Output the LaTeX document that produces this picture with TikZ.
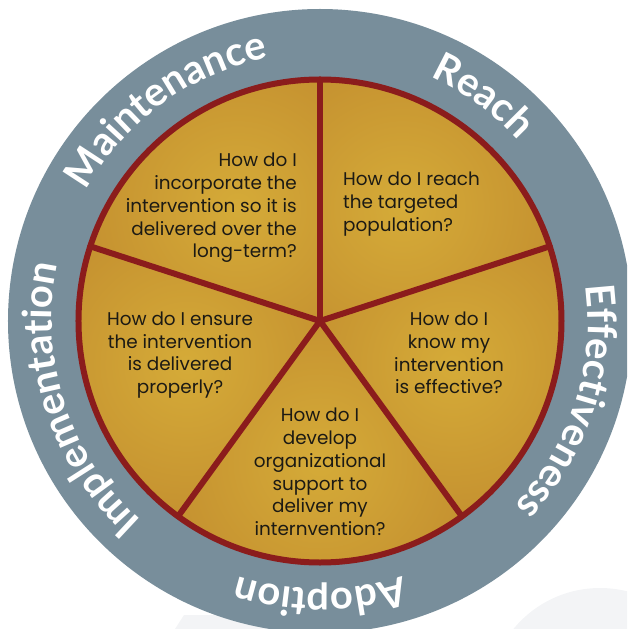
\documentclass[tikz,border=0pt]{standalone}
\usepackage{fontspec}
\setmainfont{Poppins}
\newfontfamily\ringfont{Lato}
\usetikzlibrary{decorations.text}
\definecolor{ringgray}{HTML}{788E9B}
\definecolor{spokered}{HTML}{8B1C1C}
\definecolor{goldlight}{HTML}{D5AB38}
\definecolor{golddark}{HTML}{B97E2A}
\definecolor{pale}{HTML}{F3F4F6}
\definecolor{qink}{HTML}{1C1A14}
\tikzset{
  qtext/.style={font=\fontsize{18.4}{22.7}\selectfont, text=qink, inner sep=0pt},
  redline/.style={draw=spokered, line width=6pt},
  ringlabel/.style={decorate, decoration={text along path, text align=center, text color=white, text={#1}}}
}
\begin{document}
\begin{tikzpicture}[x=1pt,y=1pt]
\useasboundingbox (-320,-308) rectangle (307,321);
\clip (-320,-308) rectangle (307,321);
% faint background shapes
\fill[pale] (280,-379) circle (112);
\fill[pale] (-145,-308) -- (-136,-294) -- (0,-294) -- (0,-308) -- cycle;
% outer ring
\fill[ringgray] (0,0) circle (312);
% gold wedges
\foreach \a in {18,90,162,234,306} {
  \begin{scope}
    \clip (0,0) -- (\a:243) arc[start angle=\a, end angle=\a+72, radius=243] -- cycle;
    \shade[inner color=goldlight, outer color=golddark] (\a+36:140) circle (270);
  \end{scope}
}
% red circle and spokes
\draw[redline] (0,0) circle (241.5);
\coordinate (c) at (0,0);
\foreach \a/\n in {90/s1,18/s2,-54/s3,-126/s4,162/s5} {
  \coordinate (\n) at (\a:241.5);
  \draw[redline, line cap=round] (c) -- (\n);
}
% ring labels
\path[ringlabel={|\ringfont\bfseries\fontsize{40}{40}\selectfont|Maintenance}] (162:268) arc[start angle=162, end angle=90, radius=268];
\path[ringlabel={|\ringfont\bfseries\fontsize{40}{40}\selectfont|Reach}] (90:268) arc[start angle=90, end angle=18, radius=268];
\path[ringlabel={|\ringfont\bfseries\fontsize{40}{40}\selectfont|Effectiveness}] (18:268) arc[start angle=18, end angle=-54, radius=268];
\path[ringlabel={|\ringfont\bfseries\fontsize{40}{40}\selectfont|Adoption}] (-54:268) arc[start angle=-54, end angle=-126, radius=268];
\path[ringlabel={|\ringfont\bfseries\fontsize{40}{40}\selectfont|Implementation}] (-126:268) arc[start angle=-126, end angle=-198, radius=268];
% questions
\node[qtext, anchor=east, align=right] (qM) at (-23,113) {How do I\\incorporate the\\intervention so it is\\delivered over the\\long-term?};
\node[qtext, anchor=west, align=left] (qR) at (23,117) {How do I reach\\the targeted\\population?};
\node[qtext, align=center] (qE) at (129,-32) {How do I\\know my\\intervention\\is effective?};
\node[qtext, align=center] (qI) at (-140,-34) {How do I ensure\\the intervention\\is delivered\\properly?};
\node[qtext, align=center] (qA) at (0,-151) {How do I\\develop\\organizational\\support to\\deliver my\\internvention?};
\end{tikzpicture}
\end{document}
